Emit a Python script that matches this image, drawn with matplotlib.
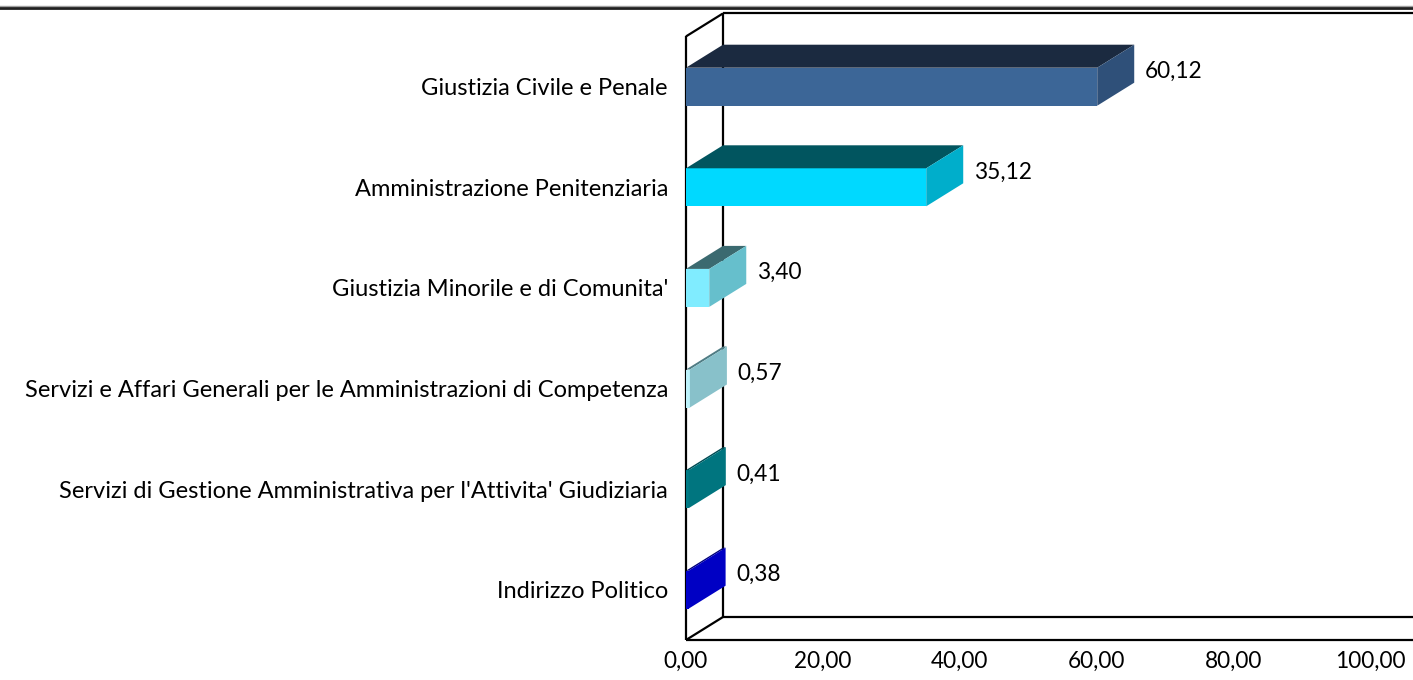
import matplotlib.pyplot as plt
from matplotlib.patches import Polygon
from matplotlib.lines import Line2D

plt.rcParams['font.family'] = ['Lato', 'DejaVu Sans']

# data (bottom to top)
categories = ["Indirizzo Politico",
              "Servizi di Gestione Amministrativa per l'Attivita' Giudiziaria",
              "Servizi e Affari Generali per le Amministrazioni di Competenza",
              "Giustizia Minorile e di Comunita'",
              "Amministrazione Penitenziaria",
              "Giustizia Civile e Penale"]
values = [0.38, 0.41, 0.57, 3.40, 35.12, 60.12]
xticks = [0, 20, 40, 60, 80, 100]

# face colours: front, top, side
front_cols = ['#0000CC', '#007B86', '#BDF2FB', '#80ECFF', '#00D9FF', '#3C6697']
top_cols = ['#00007A', '#004C54', '#4F7C84', '#3B6A70', '#01555F', '#1B2A40']
side_cols = ['#0000C4', '#00757F', '#88C1CA', '#66BFCC', '#00AECB', '#2F5079']

W, H = 1413, 680
fig = plt.figure(figsize=(W / 100, H / 100), dpi=100)
ax = fig.add_axes([686 / W, 40 / H, (W - 686) / W, 640 / H])

px_x = 6.84    # pixels per x unit
px_y = 100.6   # pixels per category
ax.set_xlim(0, (W - 686) / px_x)
ax.set_ylim(-0.5, -0.5 + 640 / px_y)

dx = 37 / px_x   # depth offsets
dy = 23 / px_y
h = 38 / px_y    # bar thickness
top = 5.5

wall = dict(color='black', lw=1.6, clip_on=False, solid_capstyle='butt')
# back wall and floor
ax.plot([dx, dx], [-0.5 + dy, top + dy], **wall)
ax.plot([dx, 200], [-0.5 + dy, -0.5 + dy], **wall)
ax.plot([dx, 200], [top + dy, top + dy], **wall)
# left wall / floor front edges
ax.plot([0, 0], [-0.5, top], **wall)
ax.plot([0, dx], [-0.5, -0.5 + dy], **wall)
ax.plot([0, dx], [top, top + dy], **wall)
ax.plot([0, 200], [-0.5, -0.5], **wall)

for k, v in enumerate(values):
    y0, y1 = k - h / 2, k + h / 2
    ax.add_patch(Polygon([(0, y0), (v, y0), (v, y1), (0, y1)],
                         closed=True, fc=front_cols[k], ec='none', zorder=3))
    ax.add_patch(Polygon([(0, y1), (v, y1), (v + dx, y1 + dy), (dx, y1 + dy)],
                         closed=True, fc=top_cols[k], ec='none', zorder=3))
    ax.add_patch(Polygon([(v, y0), (v + dx, y0 + dy), (v + dx, y1 + dy), (v, y1)],
                         closed=True, fc=side_cols[k], ec='none', zorder=3))
    ax.text(v + dx + 1.6, k + 0.15, f"{v:.2f}".replace('.', ','),
            fontsize=16.3, va='center', ha='left', color='black', zorder=4)

ax.set_yticks(range(len(categories)))
ax.set_yticklabels(categories, fontsize=17)
ax.set_xticks(xticks)
ax.set_xticklabels([f"{t:.2f}".replace('.', ',') for t in xticks], fontsize=16.3)
ax.tick_params(axis='both', length=0)
ax.tick_params(axis='y', pad=13)
ax.tick_params(axis='x', pad=8)
for s in ax.spines.values():
    s.set_visible(False)
ax.patch.set_alpha(0)

# frame line along the top of the picture
fig.add_artist(Line2D([0, 1], [1 - 6 / H, 1 - 6 / H], color='#A0A0A0', lw=1.0))
fig.add_artist(Line2D([0, 1], [1 - 8 / H, 1 - 8 / H], color='#202020', lw=2.0))

fig.savefig('out.png', dpi=100)
